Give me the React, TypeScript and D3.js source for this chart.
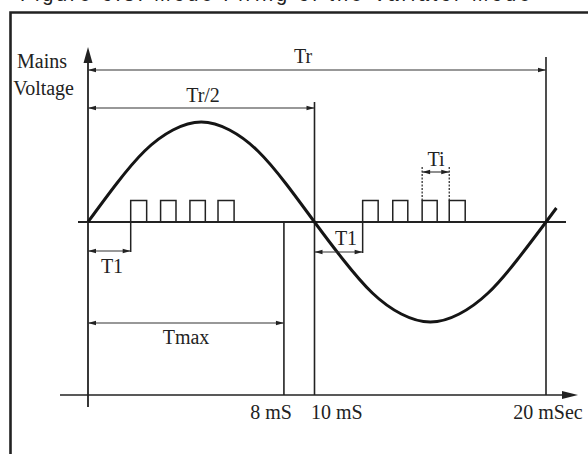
import React from "react";
import * as d3 from "d3";

// ---- data (ms / normalized voltage) ----
const sineT = [0, 1.25, 2.5, 3.75, 5, 6.25, 7.5, 8.75, 10, 11.25, 12.5, 13.75, 15, 16.25, 17.5, 18.75, 20, 20.45];
const sineV = [0, 0.38, 0.71, 0.92, 1, 0.92, 0.71, 0.38, 0, -0.38, -0.71, -0.92, -1, -0.92, -0.71, -0.38, 0, 0.14];

const pulseStarts = [1.885, 3.205, 4.5, 5.74, 12.08, 13.38, 14.65, 15.82];
const pulseEnds = [2.59, 3.885, 5.18, 6.45, 12.75, 14.03, 15.3, 16.51];
const pulseLevel = 0.215;

const tickLabels = ["8 mS", "10 mS", "20 mSec"];
const tickTimes = [8.65, 10, 20];

const dimLabels = ["Tr", "Tr/2", "Tmax", "T1", "T1", "Ti"];
const dimStarts = [0, 0, 0, 0, 10, 14.65];
const dimEnds = [20, 10, 8.65, 1.885, 12.08, 15.82];

const titleText = "Figure 6.3: Mode Firing of the Variator Mode";
const yLabels = ["Mains", "Voltage"];

export default function App() {
  const W = 588, H = 454;
  const x = d3.scaleLinear().domain([0, 10, 20]).range([88, 314.5, 546]);
  const y = d3.scaleLinear().domain([-1, 1]).range([322, 122]);
  const y0 = y(0);
  const axisY = 395;

  const sineData = sineT.map((t, i) => [t, sineV[i]] as [number, number]);
  const line = d3.line<[number, number]>().x(d => x(d[0])).y(d => y(d[1])).curve(d3.curveNatural);

  const ink = "#222";
  const dimInk = "#333";
  const font = "'Liberation Serif', 'Times New Roman', serif";

  const dimY = [70, 108, 323, 251, 252, 172];
  const dimLabelPos = [
    [303, 63], [203, 102], [186, 344], [112, 273], [346, 245], [436, 166],
  ];

  const arrowHead = (xt: number, yy: number, dir: number, key: string) => (
    <polygon key={key} points={`${xt},${yy} ${xt + dir * 8},${yy - 2.2} ${xt + dir * 8},${yy + 2.2}`} fill={ink} />
  );

  const pulsePath = pulseStarts.map((s, i) => {
    const a = x(s), b = x(pulseEnds[i]);
    return `M${a},${y0}V${y(pulseLevel)}H${b}V${y0}`;
  }).join("");

  return (
    <svg width={W} height={H} style={{ position: "absolute", left: 0, top: 0, background: "#fff" }}>
      <rect x={0} y={0} width={W} height={H} fill="#fff" />
      {/* partial title */}
      <text x={20} y={1} fontFamily="'Liberation Sans', Arial, sans-serif" fontSize={20} fill={ink} textLength={510} lengthAdjust="spacing">{titleText}</text>

      {/* y label */}
      <text x={17} y={68} fontFamily={font} fontSize={20} fill={ink}>{yLabels[0]}</text>
      <text x={74} y={95} fontFamily={font} fontSize={20} fill={ink} textAnchor="end">{yLabels[1]}</text>
      <rect x={0} y={12} width={10} height={H} fill="#fff" />

      {/* frame */}
      <path d={`M10.5,${H + 5}V12.5H${W + 5}`} fill="none" stroke={ink} strokeWidth={2.6} />

      {/* axes */}
      <line x1={x(0)} x2={x(0)} y1={58} y2={407} stroke={ink} strokeWidth={1.8} />
      <polygon points={`${x(0)},47 ${x(0) - 4.5},63 ${x(0) + 4.5},63`} fill={ink} />
      <line x1={60} x2={568} y1={axisY} y2={axisY} stroke={ink} strokeWidth={1.3} />
      <polygon points={`578,${axisY} 562,${axisY - 4} 562,${axisY + 4}`} fill={ink} />

      {/* zero line */}
      <line x1={78} x2={566} y1={y0} y2={y0} stroke={ink} strokeWidth={1.8} />

      {/* vertical time markers */}
      <line x1={x(tickTimes[0])} x2={x(tickTimes[0])} y1={y0} y2={axisY} stroke={ink} strokeWidth={1.6} />
      <line x1={x(tickTimes[1])} x2={x(tickTimes[1])} y1={102} y2={axisY} stroke={ink} strokeWidth={1.6} />
      <line x1={x(tickTimes[2])} x2={x(tickTimes[2])} y1={57} y2={axisY} stroke={ink} strokeWidth={1.6} />

      {/* tick labels */}
      <text x={292} y={419} fontFamily={font} fontSize={20} fill={ink} textAnchor="end">{tickLabels[0]}</text>
      <text x={311} y={419} fontFamily={font} fontSize={20} fill={ink}>{tickLabels[1]}</text>
      <text x={548} y={419} fontFamily={font} fontSize={20} fill={ink} textAnchor="middle">{tickLabels[2]}</text>

      {/* pulses */}
      <path d={pulsePath} fill="none" stroke={ink} strokeWidth={1.5} />
      {/* T1 edges extending down */}
      <line x1={x(dimEnds[3])} x2={x(dimEnds[3])} y1={y0} y2={dimY[3] + 1} stroke={ink} strokeWidth={1.5} />
      <line x1={x(dimEnds[4])} x2={x(dimEnds[4])} y1={y0} y2={dimY[4] + 1} stroke={ink} strokeWidth={1.5} />
      {/* Ti dashed extension lines */}
      <line x1={x(dimStarts[5])} x2={x(dimStarts[5])} y1={167} y2={y(pulseLevel)} stroke={ink} strokeWidth={1.2} strokeDasharray="2,1.5" />
      <line x1={x(dimEnds[5])} x2={x(dimEnds[5])} y1={167} y2={y(pulseLevel)} stroke={ink} strokeWidth={1.2} strokeDasharray="2,1.5" />

      {/* sine */}
      <path d={line(sineData) || ""} fill="none" stroke="#151515" strokeWidth={3} />

      {/* dimension lines */}
      {dimLabels.map((lab, i) => {
        const a = x(dimStarts[i]), b = x(dimEnds[i]), yy = dimY[i];
        return (
          <g key={i}>
            <line x1={a} x2={b} y1={yy} y2={yy} stroke={dimInk} strokeWidth={1.1} />
            {arrowHead(a, yy, 1, "a" + i)}
            {arrowHead(b, yy, -1, "b" + i)}
            <text x={dimLabelPos[i][0]} y={dimLabelPos[i][1]} fontFamily={font} fontSize={20} fill={ink} textAnchor="middle">{lab}</text>
          </g>
        );
      })}
    </svg>
  );
}
